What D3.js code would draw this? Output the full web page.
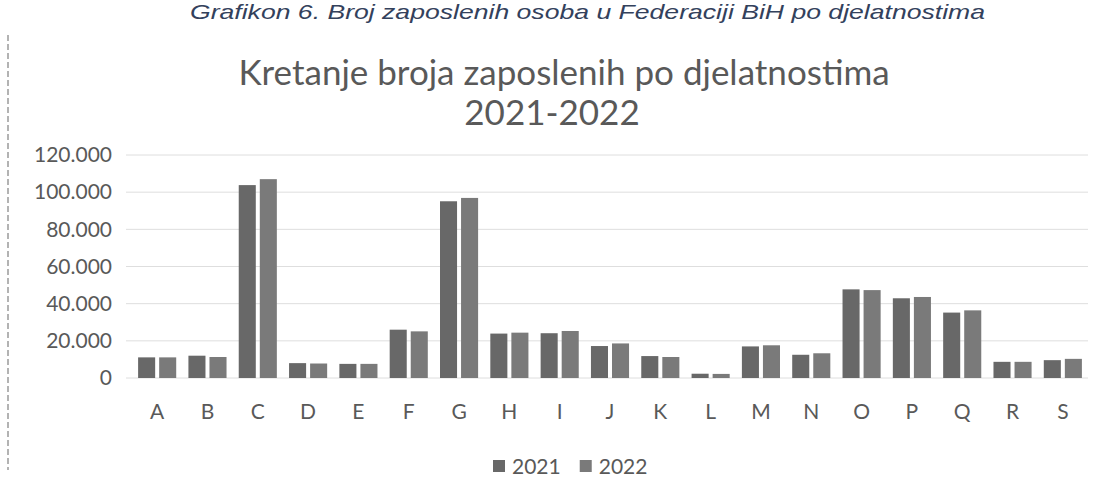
<!DOCTYPE html>
<html>
<head>
<meta charset="utf-8">
<script src="https://cdn.jsdelivr.net/npm/d3@7"></script>
<style>
  body { margin: 0; background: #fff; }
  svg { display: block; }
</style>
</head>
<body>
<div id="chart"></div>
<script>
var width = 1103, height = 504;
var margin = { top: 155, right: 15, bottom: 126, left: 132 };

// sekcije djelatnosti
var categories = ['A','B','C','D','E','F','G','H','I','J','K','L','M','N','O','P','Q','R','S'];
var years = ['2021', '2022'];
var values2021 = [11100, 12000, 103800, 8000, 7600, 26000, 95100, 23900, 24100, 17200, 11800, 2300, 17000, 12500, 47700, 42900, 35200, 8700, 9600];
var values2022 = [11100, 11300, 107000, 7800, 7600, 25100, 96900, 24400, 25300, 18600, 11300, 2200, 17600, 13300, 47300, 43600, 36400, 8700, 10300];
var yTicks = [0, 20000, 40000, 60000, 80000, 100000, 120000];
var colours = ['#686868', '#7a7a7a'];

var dataset = categories.map(function(c, i){
    return { cat: c, vals: [values2021[i], values2022[i]] };
});

var svg = d3.select("#chart")
    .append("svg")
    .attr("width", width)
    .attr("height", height);

var fontFam = "Lato, 'Noto Sans', sans-serif";

// naslov skeniranog grafikona iznad
svg.append("text")
    .attr("x", 190)
    .attr("y", 19)
    .attr("textLength", 795)
    .attr("lengthAdjust", "spacingAndGlyphs")
    .style("font-family", "'Liberation Sans', Arial, sans-serif")
    .style("font-style", "italic")
    .style("font-size", "21px")
    .style("fill", "#33415c")
    .text("Grafikon 6. Broj zaposlenih osoba u Federaciji BiH po djelatnostima");

svg.append("line")
    .attr("x1", 8).attr("x2", 8)
    .attr("y1", 35).attr("y2", 470)
    .style("stroke", "#9a9a9a")
    .style("stroke-width", 1.5)
    .style("stroke-dasharray", "6,3");

var title = svg.append("text")
    .attr("text-anchor", "middle")
    .style("font-family", fontFam)
    .style("font-size", "35px")
    .style("fill", "#595959");
title.append("tspan").attr("x", 564).attr("y", 85).text("Kretanje broja zaposlenih po djelatnostima");
title.append("tspan").attr("x", 552).attr("y", 125).text("2021-2022");

var plotW = width - margin.left - margin.right;
var plotH = height - margin.top - margin.bottom;

var g = svg.append("g")
    .attr("transform", "translate(" + margin.left + "," + margin.top + ")");

var xScale = d3.scaleBand()
    .domain(categories)
    .range([0, plotW]);
var xInner = d3.scaleBand()
    .domain(years)
    .range([0, xScale.bandwidth()])
    .paddingInner(0.19)
    .paddingOuter(0.29);
var yScale = d3.scaleLinear()
    .domain([0, 120000])
    .range([plotH, 0]);

var fmt = function(d){ return d3.format(",")(d).replace(/,/g, "."); };

// mreza
g.selectAll(".grid")
    .data(yTicks)
    .enter()
    .append("line")
    .attr("class", "grid")
    .attr("x1", -6)
    .attr("x2", plotW)
    .attr("y1", function(d){ return yScale(d); })
    .attr("y2", function(d){ return yScale(d); })
    .style("stroke", "#dedede")
    .style("stroke-width", 1);

var yAxis = g.append("g")
    .call(d3.axisLeft(yScale).tickValues(yTicks).tickFormat(fmt).tickSize(0).tickPadding(20));
yAxis.select(".domain").remove();
yAxis.selectAll("text")
    .style("font-family", fontFam)
    .style("font-size", "21px")
    .style("fill", "#595959");

var xAxis = g.append("g")
    .attr("transform", "translate(0," + plotH + ")")
    .call(d3.axisBottom(xScale).tickSize(0).tickPadding(26));
xAxis.select(".domain").remove();
xAxis.selectAll("text")
    .style("font-family", fontFam)
    .style("font-size", "21px")
    .style("fill", "#595959");

var groups = g.selectAll(".cat")
    .data(dataset)
    .enter()
    .append("g")
    .attr("class", "cat")
    .attr("transform", function(d){ return "translate(" + xScale(d.cat) + ",0)"; });

groups.selectAll("rect")
    .data(function(d){ return d.vals.map(function(v, i){ return { year: years[i], v: v }; }); })
    .enter()
    .append("rect")
    .attr("x", function(d){ return xInner(d.year); })
    .attr("y", function(d){ return yScale(d.v); })
    .attr("width", xInner.bandwidth())
    .attr("height", function(d){ return plotH - yScale(d.v); })
    .style("fill", function(d, i){ return colours[i]; });

// legenda
var legend = svg.append("g").attr("transform", "translate(0,466)");
var lx = 493;
years.forEach(function(y, i){
    legend.append("rect")
        .attr("x", lx).attr("y", -6)
        .attr("width", 12).attr("height", 12)
        .style("fill", colours[i]);
    var t = legend.append("text")
        .attr("x", lx + 19)
        .attr("y", 8)
        .style("font-family", fontFam)
        .style("font-size", "21px")
        .style("fill", "#595959")
        .text(y);
    lx += 19 + t.node().getComputedTextLength() + 19;
});
</script>
</body>
</html>
